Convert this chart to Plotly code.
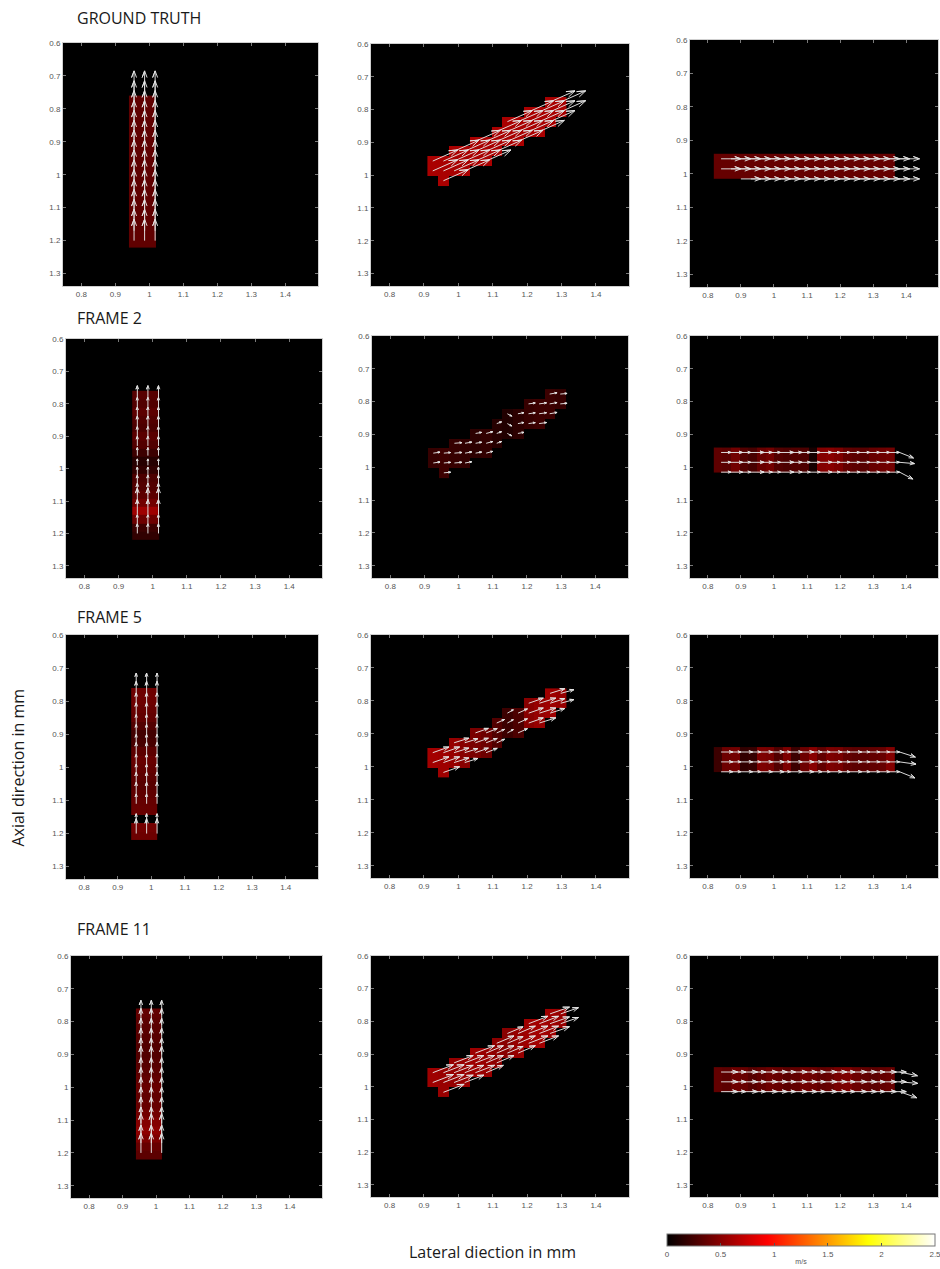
import math
import plotly.graph_objects as go

W, H = 940, 1269

# ---------------------------------------------------------------- labels / ticks
ROW_TITLES = ["GROUND TRUTH", "FRAME 2", "FRAME 5", "FRAME 11"]
Y_LABEL = "Axial direction in mm"
X_LABEL = "Lateral diection in mm"
CB_TITLE = "m/s"

X_TICKS = [0.8, 0.9, 1.0, 1.1, 1.2, 1.3, 1.4]
X_TICK_TEXT = ["0.8", "0.9", "1", "1.1", "1.2", "1.3", "1.4"]
Y_TICKS = [0.6, 0.7, 0.8, 0.9, 1.0, 1.1, 1.2, 1.3]
Y_TICK_TEXT = ["0.6", "0.7", "0.8", "0.9", "1", "1.1", "1.2", "1.3"]
CB_TICKS = [0, 0.5, 1, 1.5, 2, 2.5]
CB_TICK_TEXT = ["0", "0.5", "1", "1.5", "2", "2.5"]

X_RANGE = [0.746, 1.496]
Y_RANGE = [1.338, 0.6]
V_MIN, V_MAX = 0.0, 2.5

# ---------------------------------------------------------------- vertical vessel (left column)
V_X_EDGES = [0.940, 0.966, 0.992, 1.018]
V_Y_EDGES = [0.760, 0.786, 0.811, 0.837, 0.862, 0.888, 0.913, 0.939, 0.964, 0.990,
             1.016, 1.041, 1.067, 1.092, 1.118, 1.143, 1.169, 1.194, 1.220]
# speed (m/s) per row of cells, top to bottom
V_SPEED_GT = [0.35] * 18
V_SPEED_F2 = [0.32, 0.30, 0.34, 0.30, 0.28, 0.33, 0.30, 0.22, 0.14, 0.18,
              0.28, 0.30, 0.34, 0.42, 0.58, 0.40, 0.22, 0.18]
V_SPEED_F5 = [0.40, 0.40, 0.38, 0.36, 0.30, 0.24, 0.26, 0.34, 0.38, 0.36,
              0.34, 0.32, 0.35, 0.37, 0.38, 0.00, 0.42, 0.40]
V_SPEED_F11 = [0.36, 0.34, 0.33, 0.32, 0.30, 0.30, 0.32, 0.34, 0.36, 0.38,
               0.36, 0.38, 0.42, 0.48, 0.52, 0.46, 0.38, 0.34]
V_SPEED = [V_SPEED_GT, V_SPEED_F2, V_SPEED_F5, V_SPEED_F11]

V_ARROW_X = [0.955, 0.986, 1.017]
V_ARROW_Y = [1.20, 1.17, 1.14, 1.11, 1.08, 1.05, 1.02, 0.99,
             0.96, 0.93, 0.90, 0.87, 0.84, 0.81, 0.78, 0.75]
# arrow length (mm on plot) per arrow row, bottom to top
V_ARROW_LEN_GT = [0.065] * 16
V_ARROW_LEN_F2 = [0.030, 0.028, 0.045, 0.050, 0.035, 0.030, 0.025, 0.020,
                  0.025, 0.030, 0.030, 0.032, 0.030, 0.030, 0.036, 0.0]
V_ARROW_LEN_F5 = [0.045, 0.030, 0.0, 0.030, 0.035, 0.035, 0.030, 0.030,
                  0.035, 0.030, 0.030, 0.030, 0.035, 0.035, 0.040, 0.035]
V_ARROW_LEN_F11 = [0.060, 0.055, 0.060, 0.050, 0.050, 0.050, 0.050, 0.050,
                   0.050, 0.055, 0.050, 0.050, 0.050, 0.050, 0.045, 0.0]
V_ARROW_LEN = [V_ARROW_LEN_GT, V_ARROW_LEN_F2, V_ARROW_LEN_F5, V_ARROW_LEN_F11]

# ---------------------------------------------------------------- oblique vessel (middle column)
D_X_EDGES = [0.910, 0.941, 0.972, 1.003, 1.034, 1.065, 1.096,
             1.127, 1.158, 1.189, 1.220, 1.251, 1.282, 1.313]
D_Y_EDGES = [0.762, 0.792, 0.822, 0.852, 0.882, 0.912, 0.942, 0.972, 1.002, 1.032]
# first / last cell row occupied by the vessel in each cell column
D_TOP_ROW = [6, 6, 5, 5, 4, 4, 3, 2, 2, 1, 1, 0, 0]
D_BOTTOM_ROW = [7, 8, 7, 7, 6, 6, 5, 4, 4, 3, 3, 2, 1]
# speed (m/s) per cell column, left to right
D_SPEED_GT = [0.62] * 13
D_SPEED_F2 = [0.20, 0.22, 0.20, 0.18, 0.16, 0.18, 0.14, 0.12, 0.16, 0.20, 0.22, 0.22, 0.20]
D_SPEED_F5 = [0.60, 0.58, 0.55, 0.50, 0.45, 0.40, 0.30, 0.22, 0.28, 0.50, 0.55, 0.58, 0.55]
D_SPEED_F11 = [0.58, 0.56, 0.55, 0.56, 0.58, 0.56, 0.52, 0.50, 0.55, 0.58, 0.60, 0.58, 0.55]
D_SPEED = [D_SPEED_GT, D_SPEED_F2, D_SPEED_F5, D_SPEED_F11]
# arrow length and direction (degrees above horizontal) per cell column
D_ARROW_LEN_GT = [0.080] * 13
D_ARROW_LEN_F2 = [0.020, 0.020, 0.022, 0.020, 0.018, 0.020, 0.015, 0.015, 0.018, 0.020, 0.022, 0.022, 0.020]
D_ARROW_LEN_F5 = [0.050, 0.050, 0.045, 0.040, 0.040, 0.035, 0.025, 0.020, 0.030, 0.045, 0.050, 0.045, 0.040]
D_ARROW_LEN_F11 = [0.065, 0.065, 0.060, 0.060, 0.060, 0.055, 0.055, 0.050, 0.055, 0.060, 0.060, 0.060, 0.055]
D_ARROW_LEN = [D_ARROW_LEN_GT, D_ARROW_LEN_F2, D_ARROW_LEN_F5, D_ARROW_LEN_F11]
D_ARROW_ANG_GT = [25] * 13
D_ARROW_ANG_F2 = [8, 5, 5, 10, 10, 15, 20, -30, 10, 8, 8, 10, 5]
D_ARROW_ANG_F5 = [20, 20, 18, 18, 20, 22, 25, 30, 25, 20, 18, 18, 16]
D_ARROW_ANG_F11 = [22, 22, 22, 22, 22, 24, 24, 24, 24, 22, 22, 20, 20]
D_ARROW_ANG = [D_ARROW_ANG_GT, D_ARROW_ANG_F2, D_ARROW_ANG_F5, D_ARROW_ANG_F11]

# ---------------------------------------------------------------- horizontal vessel (right column)
H_X_EDGES = [0.818, 0.844, 0.870, 0.896, 0.922, 0.948, 0.974, 1.000, 1.026, 1.052, 1.078,
             1.104, 1.130, 1.156, 1.182, 1.208, 1.234, 1.260, 1.286, 1.312, 1.338, 1.364]
H_Y_EDGES = [0.940, 0.965, 0.990, 1.015]
# speed (m/s) per cell column, left to right
H_SPEED_GT = [0.37] * 21
H_SPEED_F2 = [0.35, 0.33, 0.42, 0.30, 0.26, 0.38, 0.42, 0.30, 0.28, 0.30, 0.28,
              0.08, 0.48, 0.50, 0.46, 0.36, 0.34, 0.32, 0.38, 0.40, 0.42]
H_SPEED_F5 = [0.22, 0.40, 0.42, 0.18, 0.20, 0.46, 0.44, 0.30, 0.46, 0.22, 0.40,
              0.50, 0.36, 0.46, 0.44, 0.36, 0.34, 0.34, 0.36, 0.38, 0.48]
H_SPEED_F11 = [0.36, 0.34, 0.40, 0.38, 0.32, 0.36, 0.40, 0.38, 0.34, 0.36, 0.42,
               0.40, 0.36, 0.38, 0.44, 0.46, 0.40, 0.36, 0.34, 0.36, 0.38]
H_SPEED = [H_SPEED_GT, H_SPEED_F2, H_SPEED_F5, H_SPEED_F11]

H_ARROW_Y = [0.955, 0.985, 1.015]
H_ARROW_X = [0.84, 0.87, 0.90, 0.93, 0.96, 0.99, 1.02, 1.05, 1.08, 1.11,
             1.14, 1.17, 1.20, 1.23, 1.26, 1.29, 1.32, 1.35, 1.38]
H_ARROW_LEN_GT = [0.060] * 19
H_ARROW_LEN_F2 = [0.030, 0.035, 0.030, 0.040, 0.035, 0.030, 0.040, 0.035, 0.030, 0.030,
                  0.035, 0.030, 0.030, 0.030, 0.030, 0.030, 0.030, 0.030, 0.045]
H_ARROW_LEN_F5 = [0.035, 0.030, 0.035, 0.030, 0.035, 0.040, 0.030, 0.035, 0.040, 0.035,
                  0.030, 0.035, 0.030, 0.035, 0.030, 0.030, 0.030, 0.030, 0.050]
H_ARROW_LEN_F11 = [0.050, 0.045, 0.050, 0.045, 0.050, 0.050, 0.045, 0.050, 0.050, 0.045,
                   0.050, 0.050, 0.045, 0.050, 0.050, 0.045, 0.050, 0.050, 0.055]
H_ARROW_LEN = [H_ARROW_LEN_GT, H_ARROW_LEN_F2, H_ARROW_LEN_F5, H_ARROW_LEN_F11]
# direction (degrees) of the last arrow in each lane
H_END_ANGLE = [[0, 0, 0], [-22, -5, -28], [-18, -8, -22], [-12, -5, -20]]
# arrows left out at the start of each lane
H_LANE_SKIP = [[0, 0, 2], [0, 0, 0], [0, 0, 0], [0, 0, 0]]

# ---------------------------------------------------------------- panel boxes in pixels (x0, x1, y0, y1)
PANELS = [
    [(63, 318, 39, 283), (371, 629, 40, 283), (690, 938, 36, 284)],
    [(66, 322, 336, 576), (372, 628, 333, 576), (690, 938, 333, 576)],
    [(66, 318, 633, 878), (371, 629, 633, 877), (690, 938, 633, 877)],
    [(71, 322, 955, 1198), (371, 629, 955, 1197), (690, 938, 955, 1197)],
]
TITLE_POS = [(75, 14), (75, 315), (75, 615), (75, 928)]

HOT = [[0.0, "rgb(0,0,0)"], [0.375, "rgb(255,0,0)"],
       [0.75, "rgb(255,255,0)"], [1.0, "rgb(255,255,255)"]]
ARROW_COLOR = "rgba(228,228,228,0.95)"
TICK_FONT = dict(family="Liberation Sans, Arial", size=8, color="#555555")


def centers(edges):
    return [(a + b) / 2 for a, b in zip(edges[:-1], edges[1:])]


def quiver_lines(xs, ys, us, vs, head_frac=0.33, head_deg=20):
    """Shaft + two-barb head for each vector, as one polyline list."""
    px, py = [], []
    ha = math.radians(head_deg)
    for x, y, u, v in zip(xs, ys, us, vs):
        L = math.hypot(u, v)
        if L <= 0:
            continue
        tx, ty = x + u, y + v
        px += [x, tx, None]
        py += [y, ty, None]
        h = max(head_frac * L, 0.007)
        dx, dy = -u / L, -v / L
        for s in (1, -1):
            c, sn = math.cos(s * ha), math.sin(s * ha)
            bx = dx * c - dy * sn
            by = dx * sn + dy * c
            px += [tx, tx + h * bx]
            py += [ty, ty + h * by]
        px.append(None)
        py.append(None)
    return px, py


fig = go.Figure()
layout_axes = {}
ax_i = 0

for r in range(4):
    for c in range(3):
        ax_i += 1
        xa = "x" if ax_i == 1 else f"x{ax_i}"
        ya = "y" if ax_i == 1 else f"y{ax_i}"

        if c == 0:
            z = [[s if s > 0 else None] * (len(V_X_EDGES) - 1) for s in V_SPEED[r]]
            hx, hy = V_X_EDGES, V_Y_EDGES
            xs, ys, us, vs = [], [], [], []
            for ax_ in V_ARROW_X:
                for ay_, L in zip(V_ARROW_Y, V_ARROW_LEN[r]):
                    xs.append(ax_)
                    ys.append(ay_)
                    us.append(0.0)
                    vs.append(-L)
        elif c == 1:
            nrows = len(D_Y_EDGES) - 1
            z = [[None] * len(D_SPEED[r]) for _ in range(nrows)]
            for j, s in enumerate(D_SPEED[r]):
                for i in range(D_TOP_ROW[j], D_BOTTOM_ROW[j] + 1):
                    z[i][j] = s
            hx, hy = D_X_EDGES, D_Y_EDGES
            cx, cy = centers(D_X_EDGES), centers(D_Y_EDGES)
            xs, ys, us, vs = [], [], [], []
            for j in range(len(cx)):
                L = D_ARROW_LEN[r][j]
                a = math.radians(D_ARROW_ANG[r][j])
                for i in range(D_TOP_ROW[j], D_BOTTOM_ROW[j] + 1):
                    xs.append(cx[j])
                    ys.append(cy[i])
                    us.append(L * math.cos(a))
                    vs.append(-L * math.sin(a))
        else:
            z = [list(H_SPEED[r]) for _ in range(len(H_Y_EDGES) - 1)]
            hx, hy = H_X_EDGES, H_Y_EDGES
            xs, ys, us, vs = [], [], [], []
            n = len(H_ARROW_X)
            for lane, ay_ in enumerate(H_ARROW_Y):
                for k in range(H_LANE_SKIP[r][lane], n):
                    L = H_ARROW_LEN[r][k]
                    a = math.radians(H_END_ANGLE[r][lane]) if k == n - 1 else 0.0
                    xs.append(H_ARROW_X[k])
                    ys.append(ay_)
                    us.append(L * math.cos(a))
                    vs.append(-L * math.sin(a))

        fig.add_trace(go.Heatmap(
            x=hx, y=hy, z=z, coloraxis="coloraxis", xaxis=xa, yaxis=ya,
            hoverinfo="skip", zsmooth=False, xgap=0, ygap=0))
        qx, qy = quiver_lines(xs, ys, us, vs)
        fig.add_trace(go.Scatter(
            x=qx, y=qy, mode="lines", xaxis=xa, yaxis=ya,
            line=dict(color=ARROW_COLOR, width=1), hoverinfo="skip", showlegend=False))

        x0, x1, y0, y1 = PANELS[r][c]
        common = dict(showgrid=False, zeroline=False, showline=True, linecolor="#cfcfcf",
                      linewidth=1, mirror="ticks", ticks="inside", ticklen=3,
                      tickcolor="#7a7a7a", tickwidth=1, tickfont=TICK_FONT,
                      fixedrange=True)
        layout_axes["xaxis" if ax_i == 1 else f"xaxis{ax_i}"] = dict(
            domain=[x0 / W, x1 / W], anchor=ya, range=X_RANGE,
            tickvals=X_TICKS, ticktext=X_TICK_TEXT, **common)
        layout_axes["yaxis" if ax_i == 1 else f"yaxis{ax_i}"] = dict(
            domain=[1 - y1 / H, 1 - y0 / H], anchor=xa, range=Y_RANGE,
            tickvals=Y_TICKS, ticktext=Y_TICK_TEXT, **common)

annotations = []
for t, (tx, ty) in zip(ROW_TITLES, TITLE_POS):
    annotations.append(dict(text=t, x=tx / W, y=1 - ty / H, xref="paper", yref="paper",
                            xanchor="left", yanchor="middle", showarrow=False,
                            font=dict(family="Open Sans", size=16, color="#1a1a1a")))
annotations.append(dict(text=Y_LABEL, x=18 / W, y=1 - 766 / H, xref="paper", yref="paper",
                        xanchor="center", yanchor="middle", textangle=-90, showarrow=False,
                        font=dict(family="Open Sans", size=16, color="#1a1a1a")))
annotations.append(dict(text=X_LABEL, x=492 / W, y=1 - 1252 / H, xref="paper", yref="paper",
                        xanchor="center", yanchor="middle", showarrow=False,
                        font=dict(family="Open Sans", size=16, color="#1a1a1a")))

fig.update_layout(
    width=W, height=H, margin=dict(l=0, r=0, t=0, b=0),
    paper_bgcolor="white", plot_bgcolor="black", showlegend=False,
    annotations=annotations,
    coloraxis=dict(
        colorscale=HOT, cmin=V_MIN, cmax=V_MAX,
        colorbar=dict(
            orientation="h", x=667 / W, xanchor="left", y=1 - 1234 / H, yanchor="top",
            lenmode="pixels", len=268, thickness=12, xpad=0, ypad=0,
            outlinewidth=1, outlinecolor="#777777",
            tickvals=CB_TICKS, ticktext=CB_TICK_TEXT, ticks="inside", ticklen=3,
            tickcolor="#555555", ticklabeloverflow="allow",
            tickfont=TICK_FONT,
            title=dict(text=CB_TITLE, side="bottom",
                       font=dict(family="Liberation Sans, Arial", size=7, color="#555555")),
        ),
    ),
    **layout_axes,
)

fig.write_html("out.html")
